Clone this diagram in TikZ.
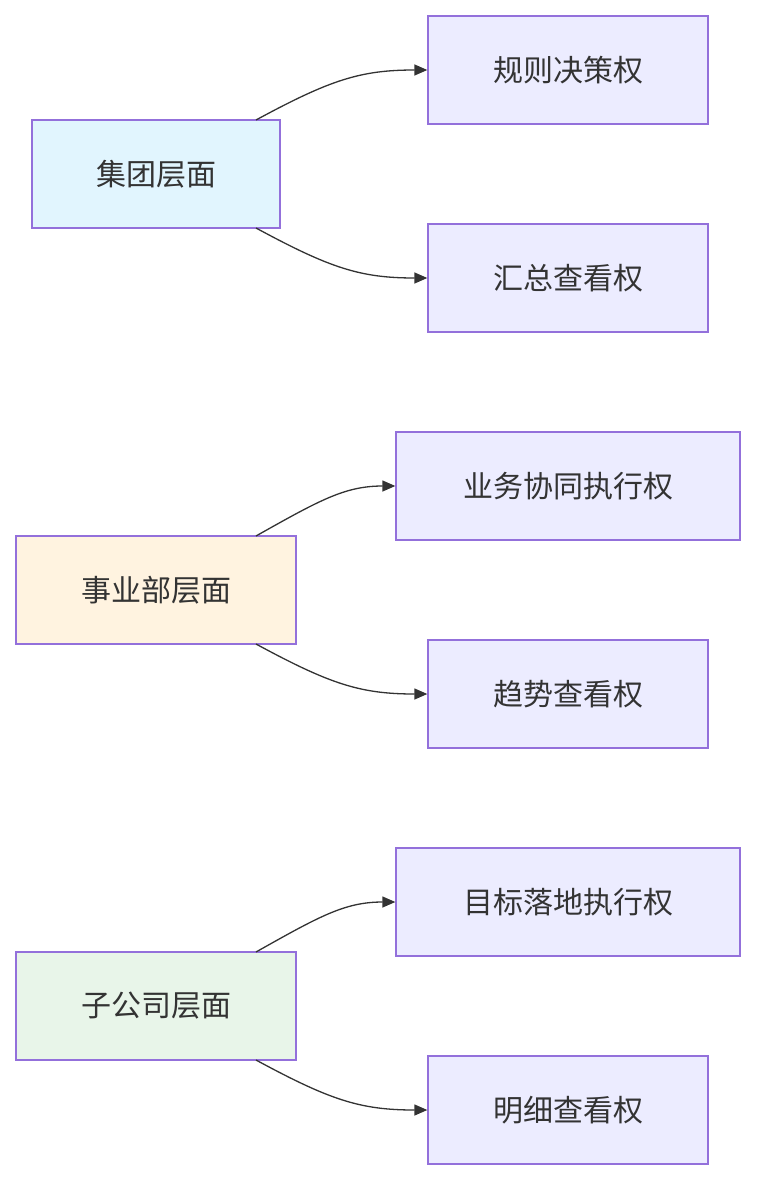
\documentclass[tikz,border=0pt]{standalone}
\usepackage{fontspec}
\newfontfamily\cjk{Noto Sans CJK SC}
\usetikzlibrary{arrows.meta}
\definecolor{bd}{HTML}{9370DB}
\definecolor{pf}{HTML}{ECECFF}
\definecolor{tx}{HTML}{333333}
\definecolor{cb}{HTML}{E1F5FE}
\definecolor{co}{HTML}{FFF3E0}
\definecolor{cg}{HTML}{E8F5E9}
\tikzset{
 box/.style={draw=bd,line width=1.3pt,fill=pf,text=tx,font=\cjk\fontsize{30}{34}\selectfont,inner sep=0pt},
 conn/.style={draw=tx,line width=1.3pt,-{Triangle[length=13pt,width=11pt]}}
}
\newcommand{\bx}[6]{\node[box,fill=#6,minimum width={(#3-#2)*1pt},minimum height=108pt] (#1) at ({(#2+#3)/2},{#4+54}) {#5};}
\newcommand{\cn}[4]{\draw[conn] (#1) .. controls ({#1+70},{#2-42}) and ({#1+110},{#4}) .. (#3);}
\begin{document}
\begin{tikzpicture}[x=1pt,y=-1pt]
\useasboundingbox (0,0) rectangle (756,1180);
\bx{g}{32}{280}{120}{集团层面}{cb}
\bx{a1}{428}{708}{16}{规则决策权}{pf}
\bx{a2}{428}{708}{224}{汇总查看权}{pf}
\bx{s}{16}{296}{536}{事业部层面}{co}
\bx{b1}{396}{740}{432}{业务协同执行权}{pf}
\bx{b2}{428}{708}{640}{趋势查看权}{pf}
\bx{z}{16}{296}{952}{子公司层面}{cg}
\bx{c1}{396}{740}{848}{目标落地执行权}{pf}
\bx{c2}{428}{708}{1056}{明细查看权}{pf}
\coordinate (g1) at (256,120); \coordinate (g2) at (256,228);
\coordinate (s1) at (256,536); \coordinate (s2) at (256,644);
\coordinate (z1) at (256,952); \coordinate (z2) at (256,1060);
\draw[conn] (g1) .. controls (330,80) and (360,70) .. (a1.west);
\draw[conn] (g2) .. controls (330,268) and (360,278) .. (a2.west);
\draw[conn] (s1) .. controls (320,500) and (345,486) .. (b1.west);
\draw[conn] (s2) .. controls (330,684) and (360,694) .. (b2.west);
\draw[conn] (z1) .. controls (320,916) and (345,902) .. (c1.west);
\draw[conn] (z2) .. controls (330,1100) and (360,1110) .. (c2.west);
\end{tikzpicture}
\end{document}
